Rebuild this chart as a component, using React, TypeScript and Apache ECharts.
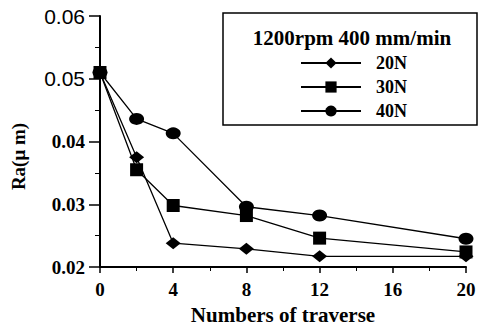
import React, { useEffect, useRef } from "react";
import * as echarts from "echarts";

const traverses = [0, 2, 4, 8, 12, 20];
const ra20N = [0.051, 0.0375, 0.0238, 0.0229, 0.0217, 0.0217];
const ra30N = [0.051, 0.0355, 0.0298, 0.0282, 0.0246, 0.0224];
const ra40N = [0.051, 0.0436, 0.0413, 0.0296, 0.0282, 0.0245];
const seriesNames = ["20N", "30N", "40N"];
const legendTitle = "1200rpm 400 mm/min";
const xName = "Numbers of traverse";
const yName = "Ra(μ m)";

const SERIF = "'Liberation Serif', 'DejaVu Serif', serif";
const SANS = "'Liberation Sans', Arial, sans-serif";

export default function App() {
  const ref = useRef<HTMLDivElement>(null);
  useEffect(() => {
    if (!ref.current) return;
    const chart = echarts.init(ref.current, null, { renderer: "svg" });
    const mk = (vals: number[]) => traverses.map((t, i) => [t, vals[i]]);
    const common = {
      type: "line",
      color: "#000",
      lineStyle: { color: "#000", width: 1.3 },
      itemStyle: { color: "#000" },
    };
    chart.setOption({
      animation: false,
      backgroundColor: "#fff",
      grid: {
        left: 100,
        right: 19,
        top: 16,
        bottom: 60,
        containLabel: false,
        outerBoundsMode: "none",
      },
      legend: {
        orient: "vertical",
        left: 295,
        top: 49,
        padding: 5,
        itemWidth: 60,
        itemHeight: 14,
        itemGap: 6,
        data: seriesNames,
        textStyle: {
          fontFamily: SERIF,
          fontWeight: "bold",
          fontSize: 18,
          color: "#000",
          padding: [0, 0, 0, 10],
        },
      },
      graphic: [
        {
          type: "rect",
          shape: { x: 223, y: 13, width: 254, height: 112 },
          style: { fill: "none", stroke: "#000", lineWidth: 1.5 },
          z: 1,
        },
        {
          type: "text",
          x: 352,
          y: 38,
          style: {
            text: legendTitle,
            fontFamily: SERIF,
            fontWeight: "bold",
            fontSize: 21,
            fill: "#000",
            align: "center",
            verticalAlign: "middle",
          },
        },
      ],
      xAxis: {
        type: "value",
        min: 0,
        max: 20,
        interval: 4,
        name: xName,
        nameLocation: "middle",
        nameGap: 37,
        nameTextStyle: {
          fontFamily: SERIF,
          fontWeight: "bold",
          fontSize: 21,
          color: "#000",
        },
        axisLine: { lineStyle: { color: "#000", width: 2 } },
        axisTick: { show: true, length: 6, lineStyle: { color: "#000", width: 1.5 } },
        minorTick: { show: true, splitNumber: 2, length: 4, lineStyle: { color: "#000" } },
        splitLine: { show: false },
        axisLabel: {
          fontFamily: SERIF,
          fontWeight: "bold",
          fontSize: 19,
          color: "#000",
          margin: 13,
        },
      },
      yAxis: {
        type: "value",
        min: 0.02,
        max: 0.06,
        interval: 0.01,
        name: yName,
        nameLocation: "middle",
        nameGap: 72,
        nameTextStyle: {
          fontFamily: SERIF,
          fontWeight: "bold",
          fontSize: 19,
          color: "#000",
          padding: [0, 30, 0, 0],
        },
        axisLine: { lineStyle: { color: "#000", width: 2 } },
        axisTick: { show: true, length: 11, lineStyle: { color: "#000", width: 1.5 } },
        minorTick: { show: true, splitNumber: 2, length: 5, lineStyle: { color: "#000" } },
        splitLine: { show: false },
        axisLabel: {
          margin: 15,
          formatter: (v: number) => {
            const s = v.toFixed(2);
            return v >= 0.045 ? "{a|" + s + "}" : "{b|" + s + "}";
          },
          rich: {
            a: { fontFamily: SANS, fontSize: 21, color: "#000" },
            b: { fontFamily: SERIF, fontWeight: "bold", fontSize: 19, color: "#000" },
          },
        },
      },
      series: [
        { ...common, name: seriesNames[0], data: mk(ra20N), symbol: "diamond", symbolSize: [15, 12] },
        { ...common, name: seriesNames[1], data: mk(ra30N), symbol: "rect", symbolSize: 13 },
        { ...common, name: seriesNames[2], data: mk(ra40N), symbol: "circle", symbolSize: [15, 12] },
      ],
    });
    return () => chart.dispose();
  }, []);
  return (
    <div
      ref={ref}
      style={{ position: "fixed", left: 0, top: 0, width: 485, height: 327 }}
    />
  );
}
